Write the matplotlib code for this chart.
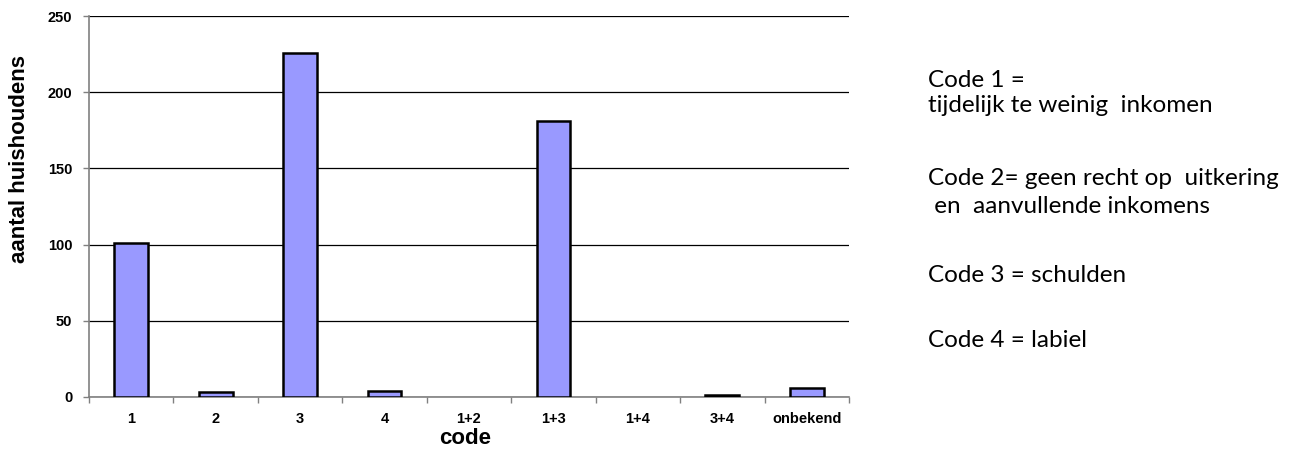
import matplotlib
matplotlib.use("Agg")
import matplotlib.pyplot as plt
import numpy as np

# data
codes = ['1', '2', '3', '4', '1+2', '1+3', '1+4', '3+4', 'onbekend']
households = [101, 3, 226, 4, 0, 181, 0, 1, 6]
yticks = [0, 50, 100, 150, 200, 250]

legend_lines = [
    ('Code 1 =', 86.7),
    ('tijdelijk te weinig  inkomen', 112.5),
    ('Code 2= geen recht op  uitkering', 185),
    (' en  aanvullende inkomens', 213),
    ('Code 3 = schulden', 281.7),
    ('Code 4 = labiel', 347),
]

W, H = 1297, 454
fig = plt.figure(figsize=(W / 100, H / 100), dpi=100)
ax = fig.add_axes([89 / W, 1 - 397 / H, (849 - 89) / W, (397 - 16) / H])

x = np.arange(len(codes))
vals = np.array(households, dtype=float)
# empty categories get no bar at all (no outline on the axis)
nz = vals > 0
ax.bar(x[nz], vals[nz], width=0.4, color='#9999FF', edgecolor='black',
       linewidth=1.8, zorder=3)

ax.set_xlim(-0.5, len(codes) - 0.5)
ax.set_ylim(0, 250)
ax.set_yticks(yticks)
ax.yaxis.grid(True, color='black', linewidth=0.9)
ax.set_axisbelow(True)

ax.set_xticks(x)
ax.set_xticklabels(codes)
ax.set_xticks(np.arange(len(codes) + 1) - 0.5, minor=True)
ax.tick_params(axis='x', which='major', length=0, pad=11)
ax.tick_params(axis='x', which='minor', length=4, color='#808080', width=1)
ax.tick_params(axis='y', length=4, color='#808080', width=1, pad=8)
for lab in ax.get_xticklabels() + ax.get_yticklabels():
    lab.set_fontfamily('Liberation Sans')
    lab.set_fontweight('bold')
    lab.set_fontsize(10.5)

for s in ['top', 'right']:
    ax.spines[s].set_visible(False)
for s in ['left', 'bottom']:
    ax.spines[s].set_color('#808080')
    ax.spines[s].set_linewidth(1.2)

fig.text(465 / W, 1 - 439 / H, 'code', fontsize=16, fontweight='bold',
         fontfamily='Liberation Sans', ha='center', va='center')
fig.text(20 / W, 1 - 159 / H, 'aantal huishoudens', rotation=90,
         fontsize=16, fontweight='bold', fontfamily='Liberation Sans',
         ha='center', va='center')

for txt, base in legend_lines:
    fig.text(928 / W, 1 - base / H, txt, fontsize=17.5, fontfamily='Lato',
             ha='left', va='baseline')

fig.savefig('out.png', dpi=100)
